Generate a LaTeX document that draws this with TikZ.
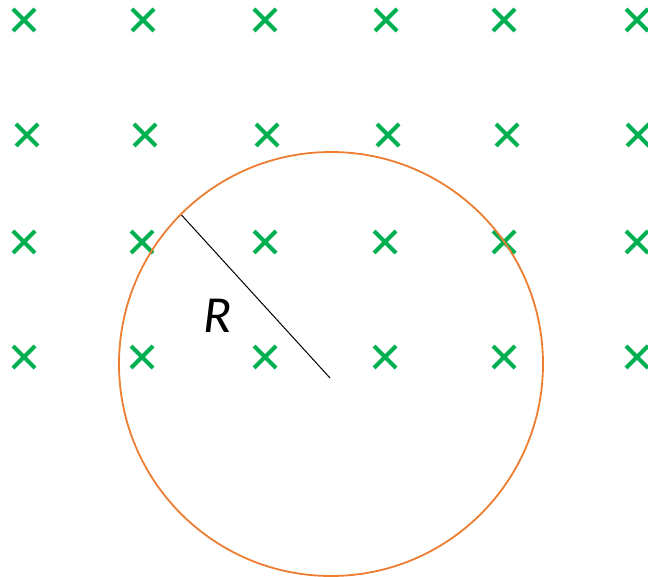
\documentclass[tikz,border=0pt]{standalone}
\usepackage{fontspec}
\setmainfont{Carlito}
\usetikzlibrary{shapes.misc}
\definecolor{fieldgreen}{HTML}{00B050}
\definecolor{ringorange}{HTML}{ED7D31}
\begin{document}
\begin{tikzpicture}[x=1pt,y=-1pt,
  fieldx/.style={cross out,draw=fieldgreen,line width=4pt,minimum size=18pt,inner sep=0pt},
  ring/.style={draw=ringorange,line width=1.8pt},
  radius line/.style={draw=black,line width=1pt}]
\useasboundingbox (0,0) rectangle (648,577);
% crosses
\foreach \x [count=\i] in {24,143,265,386,504,637} \node[fieldx] (a\i) at (\x,20) {};
\foreach \x [count=\i] in {27,145,267,388,507,638} \node[fieldx] (b\i) at (\x,135) {};
\foreach \x [count=\i] in {24,142,265,385,504,637} \node[fieldx] (c\i) at (\x,242) {};
\foreach \x [count=\i] in {24,142,265,385,504,637} \node[fieldx] (d\i) at (\x,357) {};
% circle
\coordinate (O) at (331,364);
\draw[ring] (O) circle[radius=212];
\coordinate (P) at (181.5,215);
\coordinate (Q) at (330,378);
\draw[radius line] (P) -- (Q);
\node[font=\fontsize{52}{52}\selectfont\itshape,inner sep=0pt] (R) at (218,316) {R};
\end{tikzpicture}
\end{document}
